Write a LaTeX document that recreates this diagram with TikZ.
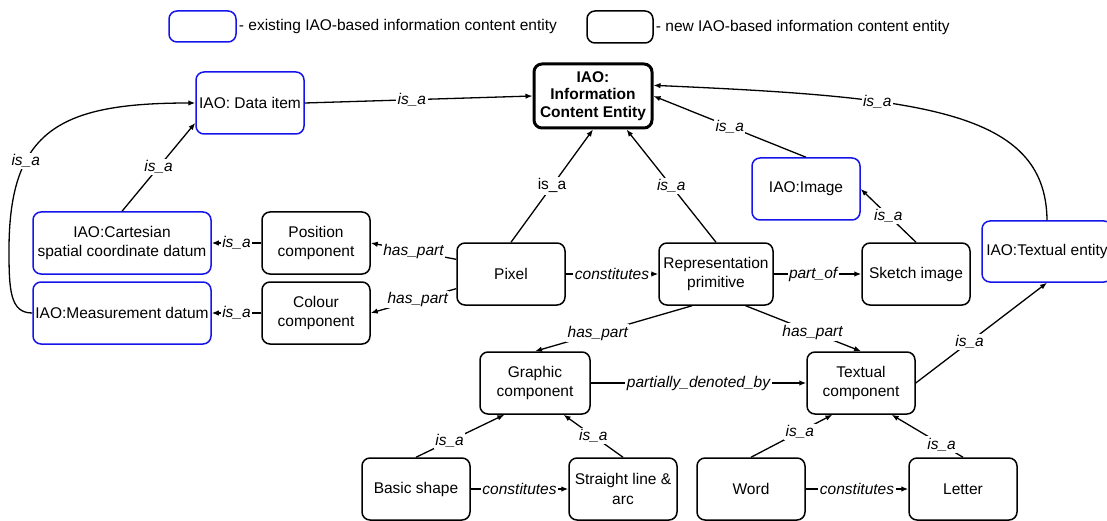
\documentclass[tikz,border=0pt]{standalone}
\usepackage{fontspec}
\setmainfont{Liberation Sans}
\usetikzlibrary{arrows.meta,positioning,calc}
\definecolor{iaoblue}{RGB}{20,20,235}

\begin{document}
\begin{tikzpicture}[x=1pt, y=-1pt,
  font=\fontsize{15.5}{19.5}\selectfont,
  box/.style={draw, line width=1.5pt, rounded corners=8pt, align=center, inner sep=2pt,
              minimum height=62pt, minimum width=108pt},
  iao/.style={box, draw=iaoblue},
  arr/.style={-{Latex[length=7pt,width=5.5pt]}, line width=1.3pt},
  lab/.style={font=\fontsize{15.5}{19.5}\selectfont\itshape, fill=white, inner sep=1.5pt}
]
\useasboundingbox (0,0) rectangle (1107,521);

% legend
\node[iao, minimum width=67pt, minimum height=31pt] (keyold) at (202.5,26.5) {};
\node[right=1pt of keyold, inner sep=1pt] (keyoldtxt) {- existing IAO-based information content entity};
\node[box, minimum width=66pt, minimum height=32pt] (keynew) at (620,27) {};
\node[right=1pt of keynew, inner sep=1pt] (keynewtxt) {- new IAO-based information content entity};

% entities
\node[iao] (data) at (250,103) {IAO: Data item};
\node[box, line width=3pt, font=\fontsize{15.5}{17.5}\selectfont\bfseries,
      minimum width=118pt, minimum height=64pt] (ice) at (593,96) {IAO:\\Information\\Content Entity};
\node[iao, minimum width=178pt] (cart) at (122,243) {IAO:Cartesian\\spatial coordinate datum};
\node[iao, minimum width=178pt] (meas) at (122,313) {IAO:Measurement datum};
\node[box] (posc) at (316,243) {Position\\component};
\node[box] (colc) at (316,313) {Colour\\component};
\node[box] (pixel) at (511,274) {Pixel};
\node[box, minimum width=114pt] (rep) at (716,274) {Representation\\primitive};
\node[iao] (image) at (806,189) {IAO:Image};
\node[box] (sketch) at (916,274) {Sketch image};
\node[iao, minimum width=130pt, minimum height=61pt] (tent) at (1047,251.5) {IAO:Textual entity};
\node[box, minimum width=110pt] (graphic) at (535,383) {Graphic\\component};
\node[box] (textual) at (861,383) {Textual\\component};
\node[box] (basic) at (416,489) {Basic shape};
\node[box] (straight) at (623,489) {Straight line \&\\arc};
\node[box] (word) at (751,489) {Word};
\node[box] (letter) at (963,489) {Letter};

% relations
\coordinate (mbend) at (9,250);
\draw[arr] (meas.west) .. controls (10,313) and (9,290) .. (mbend)
  .. controls (9,130) and (60,103) .. node[lab, pos=0.32] {is\_a} (data.west);
\draw[arr] (data.east) -- node[lab, pos=0.47] {is\_a} (ice.west);
\draw[arr] (cart.north) -- node[lab] {is\_a} (data.200);
\draw[arr] (posc.west) -- node[lab] {is\_a} (cart.east);
\draw[arr] (colc.west) -- node[lab] {is\_a} (meas.east);
\draw[arr] (pixel.165) -- node[lab] {has\_part} (posc.east);
\draw[arr] (pixel.195) -- node[lab, pos=0.45] {has\_part} (colc.east);
\draw[arr] (pixel.north) -- node[lab, font=\fontsize{15.5}{19.5}\selectfont] {is\_a} (ice.south);
\draw[arr] (rep.north) -- node[lab] {is\_a} (ice.-45);
\draw[arr] (pixel.east) -- node[lab] {constitutes} (rep.west);
\draw[arr] (image.north) -- node[lab] {is\_a} (ice.east);
\draw[arr] (tent.north) .. controls (1046,110) and (920,97) .. node[lab, pos=0.66] {is\_a} (ice.10);
\draw[arr] (sketch.north) -- node[lab] {is\_a} (image.east);
\draw[arr] (rep.east) -- node[lab, pos=0.45] {part\_of} (sketch.west);
\draw[arr] (rep.233) -- node[lab, pos=0.6] {has\_part} (graphic.north);
\draw[arr] (rep.-47) -- node[lab, pos=0.58] {has\_part} (textual.north);
\draw[arr] (graphic.east) -- node[lab] {partially\_denoted\_by} (textual.west);
\draw[arr] (textual.east) -- node[lab, pos=0.41] {is\_a} (tent.south);
\draw[arr] (basic.north) -- node[lab, pos=0.38] {is\_a} (graphic.226);
\draw[arr] (straight.north) -- node[lab] {is\_a} (graphic.-48);
\draw[arr] (basic.east) -- node[lab] {constitutes} (straight.west);
\draw[arr] (word.north) -- node[lab, pos=0.6] {is\_a} (textual.228);
\draw[arr] (letter.north) -- node[lab, pos=0.3] {is\_a} (textual.-46);
\draw[arr] (word.east) -- node[lab] {constitutes} (letter.west);
\end{tikzpicture}
\end{document}
